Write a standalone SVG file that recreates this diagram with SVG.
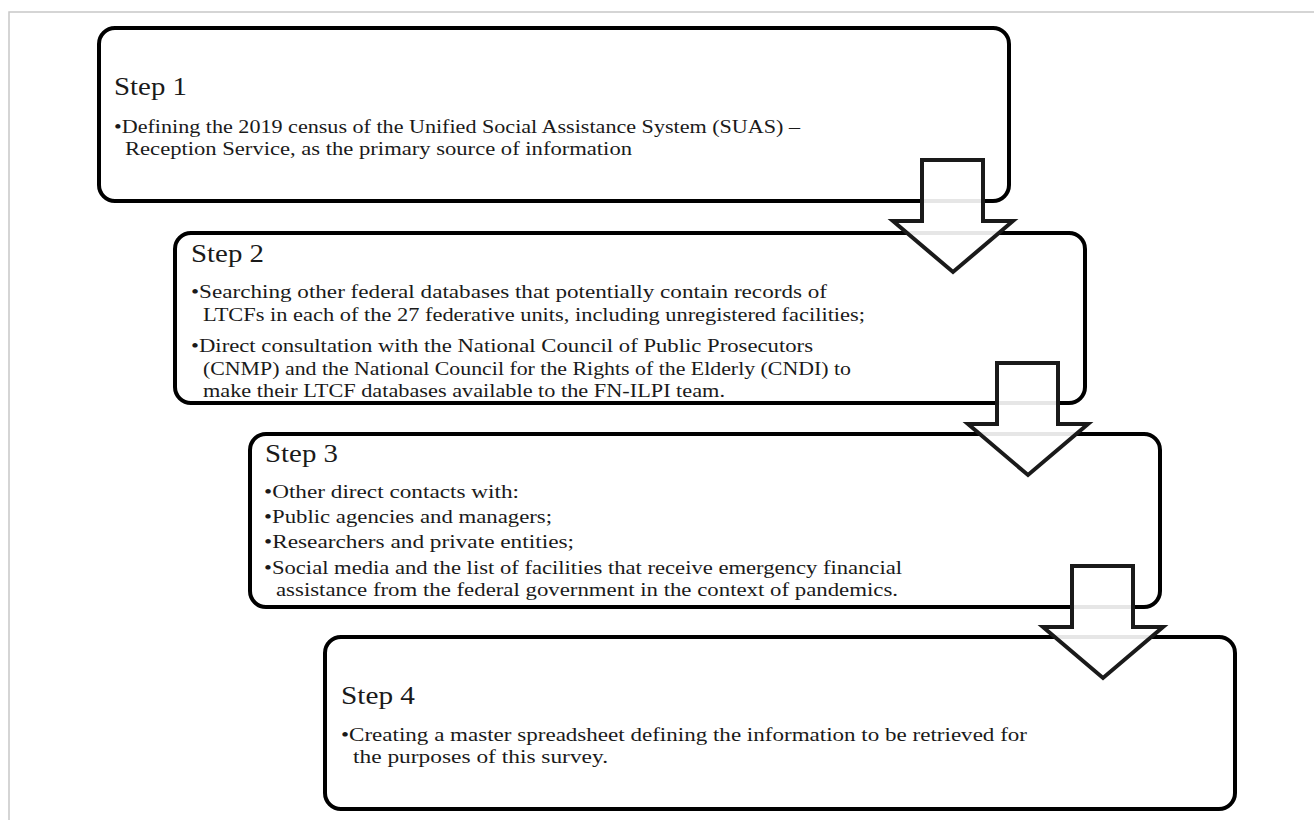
<svg xmlns="http://www.w3.org/2000/svg" width="1314" height="820" viewBox="0 0 1314 820">
<style>
.frame{fill:none;stroke:#c8c8c8;stroke-width:1.5}
.box{fill:#fff;stroke:#000;stroke-width:4}
.arrow{fill:#fff;fill-opacity:0.9;stroke:#1a1a1a;stroke-width:4;stroke-linejoin:miter}
.title{font-family:"Liberation Serif","DejaVu Serif",serif;font-size:26px;fill:#1a1a1a}
.body{font-family:"Liberation Serif","DejaVu Serif",serif;font-size:19.5px;fill:#1a1a1a}
</style>
<rect width="1314" height="820" fill="#fff"/>
<path class="frame" d="M9,820 V12 H1314"/>
<g id="step1">
<rect class="box" x="99" y="28" width="910" height="173" rx="16"/>
<text class="title" x="114" y="95" textLength="73" lengthAdjust="spacingAndGlyphs">Step 1</text>
<text class="body" x="114" y="132.5" textLength="686" lengthAdjust="spacingAndGlyphs">•Defining the 2019 census of the Unified Social Assistance System (SUAS) –</text>
<text class="body" x="125" y="154.5" textLength="507" lengthAdjust="spacingAndGlyphs">Reception Service, as the primary source of information</text>
</g>
<g id="step2">
<rect class="box" x="175" y="233" width="910" height="170" rx="16"/>
<text class="title" x="191" y="262" textLength="73" lengthAdjust="spacingAndGlyphs">Step 2</text>
<text class="body" x="191" y="298" textLength="636" lengthAdjust="spacingAndGlyphs">•Searching other federal databases that potentially contain records of</text>
<text class="body" x="203" y="321" textLength="662" lengthAdjust="spacingAndGlyphs">LTCFs in each of the 27 federative units, including unregistered facilities;</text>
<text class="body" x="191" y="351.5" textLength="622" lengthAdjust="spacingAndGlyphs">•Direct consultation with the National Council of Public Prosecutors</text>
<text class="body" x="203" y="374.5" textLength="648" lengthAdjust="spacingAndGlyphs">(CNMP) and the National Council for the Rights of the Elderly (CNDI) to</text>
<text class="body" x="203" y="397" textLength="522" lengthAdjust="spacingAndGlyphs">make their LTCF databases available to the FN-ILPI team.</text>
</g>
<g id="step3">
<rect class="box" x="250" y="434" width="910" height="173" rx="16"/>
<text class="title" x="265" y="462" textLength="73" lengthAdjust="spacingAndGlyphs">Step 3</text>
<text class="body" x="264" y="497.5" textLength="255" lengthAdjust="spacingAndGlyphs">•Other direct contacts with:</text>
<text class="body" x="264" y="522.5" textLength="288" lengthAdjust="spacingAndGlyphs">•Public agencies and managers;</text>
<text class="body" x="264" y="547.5" textLength="310" lengthAdjust="spacingAndGlyphs">•Researchers and  private entities;</text>
<text class="body" x="264" y="573.5" textLength="638" lengthAdjust="spacingAndGlyphs">•Social media and the list of facilities that receive emergency financial</text>
<text class="body" x="276" y="596" textLength="622" lengthAdjust="spacingAndGlyphs">assistance from the federal government in the context of pandemics.</text>
</g>
<g id="step4">
<rect class="box" x="325" y="637" width="910" height="172" rx="16"/>
<text class="title" x="341" y="704" textLength="74" lengthAdjust="spacingAndGlyphs">Step 4</text>
<text class="body" x="341" y="741" textLength="686" lengthAdjust="spacingAndGlyphs">•Creating a master spreadsheet  defining the information to be retrieved for</text>
<text class="body" x="353" y="763" textLength="255" lengthAdjust="spacingAndGlyphs">the purposes of this survey.</text>
</g>
<g id="connectors">
<path class="arrow" d="M922,160 H983 V221 H1013 L953,272 L893,221 H922 Z"/>
<path class="arrow" d="M997,363 H1058 V424 H1088 L1028,475 L968,424 H997 Z"/>
<path class="arrow" d="M1072,566 H1133 V627 H1163 L1103,678 L1043,627 H1072 Z"/>
</g>
</svg>
